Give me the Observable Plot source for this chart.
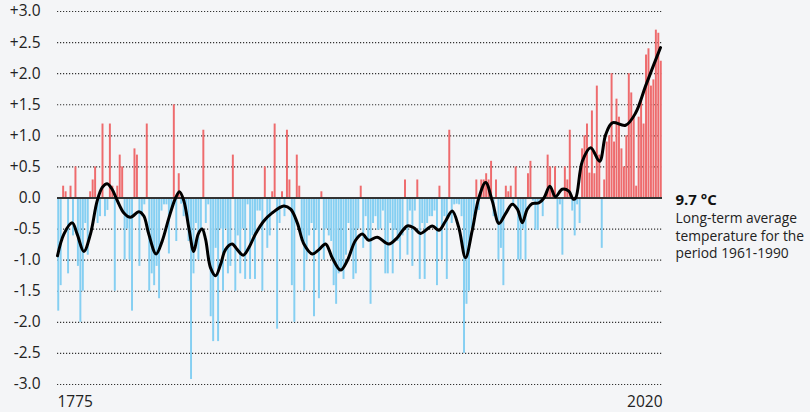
<!DOCTYPE html>
<html><head><meta charset="utf-8">
<script src="https://cdn.jsdelivr.net/npm/d3@7"></script>
<script src="https://cdn.jsdelivr.net/npm/@observablehq/plot@0.6"></script>
<style>
html,body{margin:0;padding:0;background:#f4f5f7;}
#chart{width:810px;height:412px;}
svg{font-family:"Open Sans",sans-serif;}
</style></head><body><div id="chart"></div>
<script>
const startYear = 1775;
const endYear = 2020;
const anomalies = [
-1.82,-1.41,0.19,0.1,-1.22,0.19,-0.61,0.5,-1.1,-2.0,
-1.5,-0.41,-0.92,0.1,0.29,0.5,-0.41,-0.3,1.19,-0.3,
-0.2,1.19,0.19,-1.5,0.19,0.69,0.5,-1.0,-0.5,-1.0,
-1.82,0.79,0.69,-1.1,-0.3,-0.11,1.19,-1.5,-1.22,-1.41,
-1.1,-1.62,-0.21,-0.11,-0.11,-0.9,-0.2,1.5,-0.7,0.39,
-0.1,-0.3,-0.2,-0.7,-2.92,-1.22,-0.41,-1.0,-0.5,1.09,
-0.41,-0.11,-1.91,-2.31,-0.81,-2.31,-0.5,-1.5,-0.5,-1.22,
-1.1,0.69,-1.5,-0.61,-1.22,-0.5,-1.31,-0.11,-1.31,-0.61,
-1.31,-0.21,-0.21,-1.5,0.5,-0.81,-0.61,0.1,1.19,-2.11,
-0.41,0.1,-0.3,1.09,0.29,-1.41,-2.0,0.69,0.19,-0.7,
-1.5,-1.0,-0.61,-0.41,-1.91,-0.52,-1.62,0.1,-1.0,-0.5,
-0.61,-0.7,-1.41,-1.71,-1.22,-1.18,-1.31,-0.92,-0.41,-0.9,
-1.31,-1.22,-0.5,0.19,-0.81,-0.3,-0.7,-1.71,-0.41,-0.3,
-0.52,-0.5,-0.21,-1.22,-1.22,-0.41,-1.22,-0.52,-0.7,-1.0,
-0.61,0.29,-0.92,-0.21,-1.1,-0.21,0.29,-1.31,-0.41,-1.31,
-0.41,-0.3,-0.3,-0.21,-1.41,0.19,-1.0,-0.3,-1.31,1.09,
-0.41,-0.11,-0.1,-0.11,-0.3,-2.5,-1.71,-1.5,-0.5,-0.3,
0.29,-0.2,0.29,0.29,0.39,0.29,0.59,-0.3,0.29,-1.0,
-0.81,-1.41,0.19,0.1,0.19,-0.11,0.5,-1.0,-1.0,-0.5,
-1.0,0.39,0.59,-0.05,-0.52,-0.52,-0.05,-0.3,0.05,0.69,
0.5,0.1,0.5,-0.5,-0.11,-0.92,0.5,0.29,1.09,-0.21,
-0.61,-0.11,-0.41,0.79,1.0,1.19,0.4,1.4,0.39,1.8,
0.69,-0.81,0.29,0.9,1.0,2.0,0.9,1.59,1.3,0.79,
0.5,1.0,2.0,1.69,1.3,0.19,1.3,1.59,1.19,2.3,
2.4,1.8,1.9,2.7,2.65,2.2
];
const smoothYears = [1775.0,1777.6,1781.0,1783.0,1785.7,1788.4,1791.1,1793.2,1795.2,1797.2,1799.3,1802.0,1804.7,1808.1,1810.1,1812.1,1815.1,1817.6,1820.3,1823.0,1824.6,1826.4,1828.4,1830.4,1832.2,1833.8,1835.2,1837.2,1839.3,1841.3,1843.3,1846.0,1848.1,1850.5,1852.8,1855.5,1858.9,1862.3,1867.0,1869.8,1872.5,1875.2,1878.6,1881.3,1884.0,1886.7,1890.1,1892.8,1896.2,1898.9,1901.6,1905.0,1909.7,1913.1,1917.2,1919.9,1922.6,1927.4,1930.1,1932.8,1935.5,1938.2,1940.9,1943.6,1946.3,1949.1,1951.8,1954.5,1957.2,1959.9,1962.0,1964.0,1966.0,1968.0,1970.7,1972.8,1975.2,1977.5,1980.2,1982.9,1984.7,1985.7,1988.4,1991.8,1995.4,1997.9,2000.6,2006.0,2010.1,2014.1,2017.5,2020.2];
const smoothValues = [-0.93,-0.58,-0.40,-0.58,-0.86,-0.58,-0.05,0.17,0.23,0.14,-0.04,-0.24,-0.31,-0.22,-0.29,-0.58,-0.90,-0.69,-0.32,0.0,0.10,-0.05,-0.48,-0.86,-0.58,-0.50,-0.66,-1.12,-1.25,-1.07,-0.83,-0.74,-0.83,-0.92,-0.80,-0.58,-0.37,-0.24,-0.13,-0.18,-0.40,-0.74,-0.90,-0.83,-0.74,-0.96,-1.16,-1.01,-0.68,-0.58,-0.68,-0.63,-0.74,-0.64,-0.45,-0.48,-0.57,-0.45,-0.52,-0.37,-0.21,-0.48,-0.96,-0.53,0.0,0.25,-0.05,-0.41,-0.25,-0.10,-0.18,-0.40,-0.18,-0.09,-0.08,0.0,0.19,0.02,0.14,0.11,-0.02,0.0,0.59,0.81,0.59,1.02,1.21,1.17,1.37,1.80,2.15,2.42];
const yTicks = [3,2.5,2,1.5,1,0.5,0,-0.5,-1,-1.5,-2,-2.5,-3];
const xTickLabels = ["1775","2020"];
const refTitle = "9.7 °C";
const refLines = ["Long-term average","temperature for the","period 1961-1990"];

const bars = anomalies.map((v,i)=>({x1:startYear+i, x2:startYear+i+1, v}));
const smooth = smoothYears.map((x,i)=>({x, y:smoothValues[i]}));
const fmt = d => d>0 ? "+"+d.toFixed(1) : d.toFixed(1);

const chart = Plot.plot({
  width:810, height:412,
  marginTop:11, marginBottom:28, marginLeft:57, marginRight:148,
  style:{background:"#f4f5f7", fontFamily:"'Open Sans',sans-serif", color:"#222"},
  x:{domain:[startYear,endYear+1], axis:null},
  y:{domain:[-3,3], axis:null},
  marks:[
    Plot.gridY(yTicks.filter(d=>d!==0), {stroke:"#333", strokeOpacity:1, strokeDasharray:"1.2,1.8", strokeWidth:1.2}),
    Plot.rectY(bars, {x1:"x1", x2:"x2", y:"v", fill:d=>d.v>=0?"#ee6b6d":"#85cff2", insetLeft:0.25, insetRight:0.25}),
    Plot.ruleY([0], {stroke:"#333", strokeWidth:2}),
    Plot.line(smooth, {x:"x", y:"y", curve:"catmull-rom", stroke:"#000", strokeWidth:3}),
    Plot.axisY(yTicks, {tickSize:0, tickPadding:17, tickFormat:fmt, fontSize:15.5, fill:"#222"}),
    Plot.text([xTickLabels[0]], {x:startYear, y:-3, dy:18, textAnchor:"start", fontSize:15.5, fill:"#222"}),
    Plot.text([xTickLabels[1]], {x:endYear+1, y:-3, dy:18, textAnchor:"end", fontSize:15.5, fill:"#222"}),
    Plot.text([refTitle], {x:endYear+1, y:0, dx:13, dy:2, textAnchor:"start", fontSize:15, fontWeight:"bold", fill:"#111"}),
    ...refLines.map((t,i)=>Plot.text([t], {x:endYear+1, y:0, dx:13, dy:21+i*17.2, textAnchor:"start", fontSize:13.8, fill:"#222"}))
  ]
});
document.getElementById("chart").append(chart);
</script></body></html>
